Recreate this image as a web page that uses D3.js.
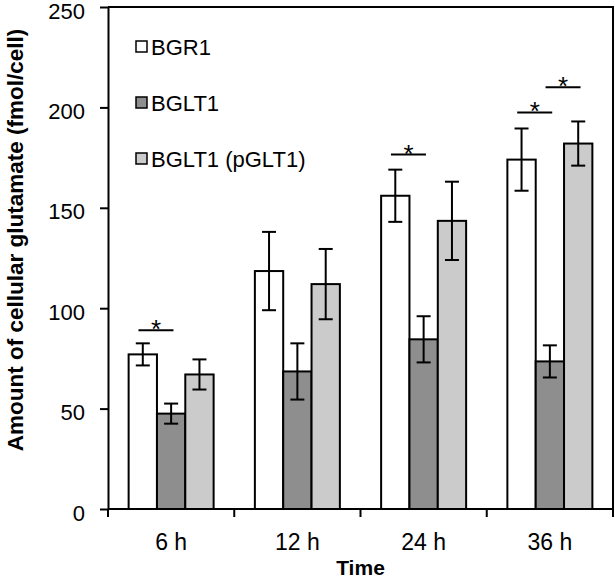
<!DOCTYPE html>
<html>
<head>
<meta charset="utf-8">
<script src="https://cdn.jsdelivr.net/npm/d3@7/dist/d3.min.js"></script>
<style>
  html, body { margin: 0; padding: 0; background: #fff; }
  svg { display: block; font-family: "Liberation Sans", Arial, sans-serif; }
</style>
</head>
<body>
<svg id="chart" width="615" height="579"></svg>
<script>
// ---- data ----
const categories = ["6 h", "12 h", "24 h", "36 h"];
const seriesNames = ["BGR1", "BGLT1", "BGLT1 (pGLT1)"];
const bgr1Values = [77, 118.5, 156, 174];
const bgr1Errors = [5.5, 19.5, 13, 15.5];
const bglt1Values = [47.5, 68.5, 84.5, 73.5];
const bglt1Errors = [5, 14, 11.5, 8];
const pglt1Values = [67, 112, 143.5, 182];
const pglt1Errors = [7.5, 17.5, 19.5, 11];
const yTicks = [0, 50, 100, 150, 200, 250];
// significance markers: category, pair of series indices, bracket level (y units)
const sigCategory = ["6 h", "24 h", "36 h", "36 h"];
const sigFrom = [0, 0, 0, 1];
const sigTo = [1, 1, 1, 2];
const sigLevel = [89, 176.5, 197.5, 210];

const colors = ["#ffffff", "#8e8e8e", "#cbcbcb"];
const values = [bgr1Values, bglt1Values, pglt1Values];
const errors = [bgr1Errors, bglt1Errors, pglt1Errors];

const svg = d3.select("#chart");
const L = 108, R = 613, T = 7, B = 509;

const x = d3.scaleBand().domain(categories).range([L, R]).paddingInner(0).paddingOuter(0);
const xs = d3.scaleBand().domain(d3.range(seriesNames.length)).range([0, x.bandwidth()])
  .paddingInner(0).paddingOuter(0.728);
const y = d3.scaleLinear().domain([0, 250]).range([B, T]);

// bars
const rows = [];
categories.forEach((c, ci) => {
  seriesNames.forEach((s, si) => {
    rows.push({c, si, v: values[si][ci], e: errors[si][ci]});
  });
});

svg.append("g").selectAll("rect").data(rows).enter().append("rect")
  .attr("x", d => x(d.c) + xs(d.si))
  .attr("y", d => y(d.v))
  .attr("width", xs.bandwidth())
  .attr("height", d => y(0) - y(d.v))
  .attr("fill", d => colors[d.si])
  .attr("stroke", "#000")
  .attr("stroke-width", 2);

// error bars
const eg = svg.append("g").attr("stroke", "#000").attr("stroke-width", 2).attr("fill", "none");
rows.forEach(d => {
  const cx = x(d.c) + xs(d.si) + xs.bandwidth() / 2;
  eg.append("line").attr("x1", cx).attr("x2", cx).attr("y1", y(d.v + d.e)).attr("y2", y(d.v - d.e));
  eg.append("line").attr("x1", cx - 7).attr("x2", cx + 7).attr("y1", y(d.v + d.e)).attr("y2", y(d.v + d.e));
  eg.append("line").attr("x1", cx - 7).attr("x2", cx + 7).attr("y1", y(d.v - d.e)).attr("y2", y(d.v - d.e));
});

// significance
sigCategory.forEach((c, i) => {
  const c1 = x(c) + xs(sigFrom[i]) + xs.bandwidth() / 2;
  const c2 = x(c) + xs(sigTo[i]) + xs.bandwidth() / 2;
  const mid = (c1 + c2) / 2 - 1;
  const yy = y(sigLevel[i]);
  svg.append("line").attr("x1", mid - 17.5).attr("x2", mid + 17.5).attr("y1", yy).attr("y2", yy)
    .attr("stroke", "#000").attr("stroke-width", 2);
  svg.append("text").attr("x", mid).attr("y", yy + 8).attr("text-anchor", "middle")
    .attr("font-size", 26).text("*");
});

// frame (top and right)
svg.append("path").attr("d", `M${L},${T}H${R}V${B}`).attr("fill", "none").attr("stroke", "#000").attr("stroke-width", 2);

// y axis
const yAxis = svg.append("g").attr("transform", `translate(${L},0)`)
  .call(d3.axisLeft(y).tickValues(yTicks).tickSize(8).tickPadding(15).tickSizeOuter(0));
yAxis.select(".domain").attr("stroke-width", 2);
yAxis.selectAll(".tick line").attr("stroke-width", 2);
yAxis.selectAll("text").attr("font-size", 22).attr("dy", "0.5em").attr("fill", "#000")
  .style("font-family", "Liberation Sans, Arial, sans-serif");

// x axis: baseline + boundary ticks + centered labels
svg.append("line").attr("x1", L).attr("x2", R).attr("y1", B).attr("y2", B).attr("stroke", "#000").attr("stroke-width", 2);
const bounds = categories.map(c => x(c)).concat([x(categories[categories.length - 1]) + x.bandwidth()]);
svg.append("g").selectAll("line").data(bounds).enter().append("line")
  .attr("x1", d => d).attr("x2", d => d).attr("y1", B).attr("y2", B + 8)
  .attr("stroke", "#000").attr("stroke-width", 2);
svg.append("g").selectAll("text").data(categories).enter().append("text")
  .attr("x", d => x(d) + x.bandwidth() / 2).attr("y", 550)
  .attr("text-anchor", "middle").attr("font-size", 23).text(d => d);

// axis titles
svg.append("text").attr("transform", "translate(23,240) rotate(-90)")
  .attr("text-anchor", "middle").attr("font-size", 22.5).attr("font-weight", "bold")
  .text("Amount of cellular glutamate (fmol/cell)");
svg.append("text").attr("x", (L + R) / 2).attr("y", 575)
  .attr("text-anchor", "middle").attr("font-size", 21).attr("font-weight", "bold").text("Time");

// legend
const lg = svg.append("g");
seriesNames.forEach((s, i) => {
  const base = 55 + i * 56;
  lg.append("rect").attr("x", 136).attr("y", base - 14).attr("width", 11).attr("height", 11)
    .attr("fill", colors[i]).attr("stroke", "#000").attr("stroke-width", 1.5);
  lg.append("text").attr("x", 151).attr("y", base).attr("font-size", 22).text(s);
});
</script>
</body>
</html>
